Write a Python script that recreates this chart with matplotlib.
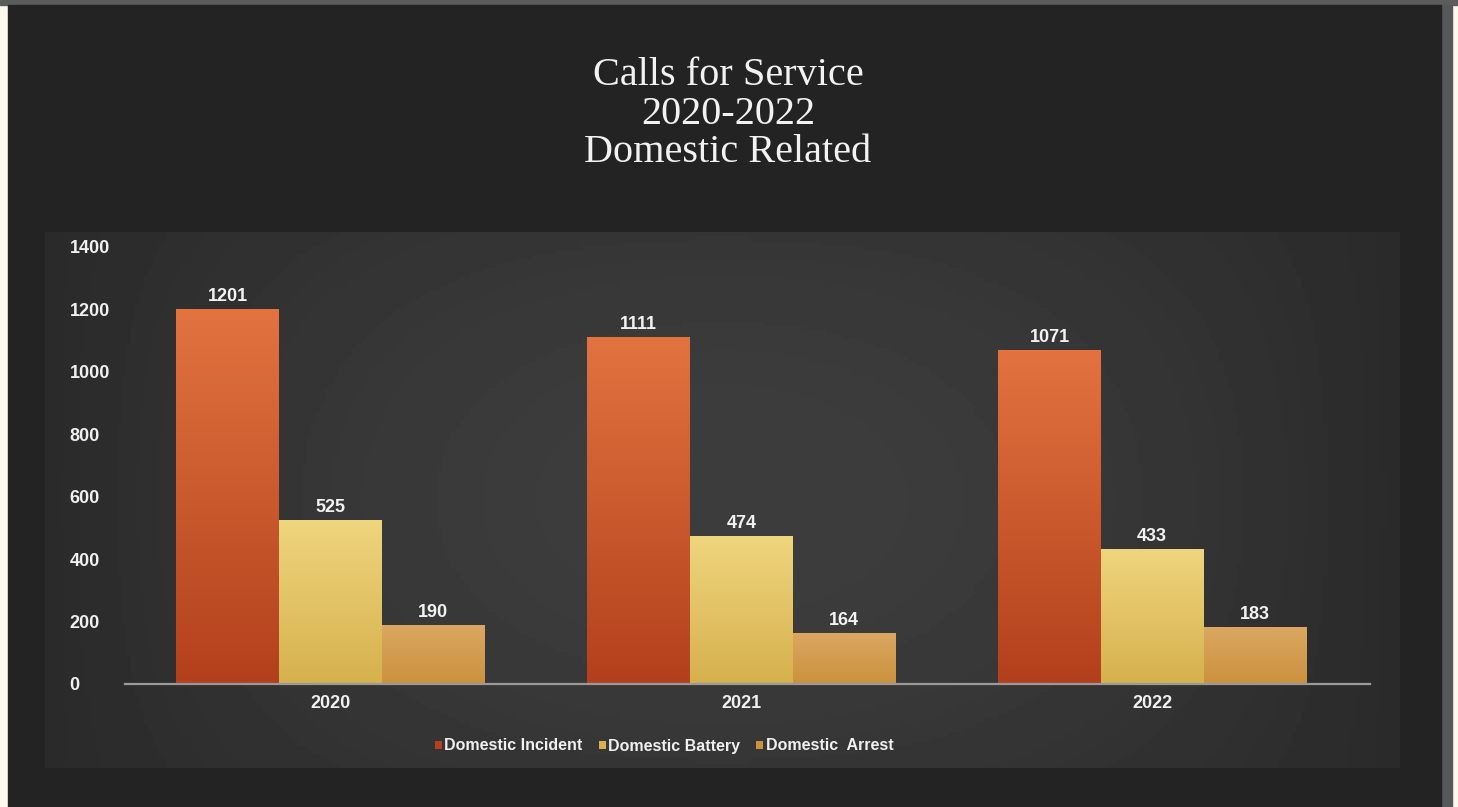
import numpy as np
import matplotlib.pyplot as plt
from matplotlib.patches import Rectangle
from matplotlib.colors import LinearSegmentedColormap

# data
years = ['2020', '2021', '2022']
incident = [1201, 1111, 1071]
battery = [525, 474, 433]
arrest = [190, 164, 183]
series_names = ['Domestic Incident', 'Domestic Battery', 'Domestic  Arrest']
y_ticks = [0, 200, 400, 600, 800, 1000, 1200, 1400]

# colours (top, bottom) for the gradient fill
grads = [('#e2733f', '#b3401c'), ('#efd57e', '#d6b14d'), ('#dba762', '#cc913d')]

W, H = 1458, 807
fig = plt.figure(figsize=(W / 100, H / 100), dpi=100, facecolor='#fdf8ec')

# frame + dark panel
fig.patches.append(Rectangle((0, 1 - 5 / H), 1, 5 / H, transform=fig.transFigure,
                             color='#5c5c5c', zorder=-2))
fig.patches.append(Rectangle((1441 / W, 0), 11 / W, 1 - 5 / H, transform=fig.transFigure,
                             color='#55575a', zorder=-2))
fig.patches.append(Rectangle((8 / W, 0), (1441 - 8) / W, 1 - 5 / H, transform=fig.transFigure,
                             color='#232323', zorder=-2))

# lighter chart panel with soft gradient
bg = fig.add_axes([45 / W, 1 - 768 / H, (1400 - 45) / W, (768 - 232) / H], zorder=0)
gx = np.linspace(-1, 1, 300)
gy = np.linspace(-1, 1, 120)
X, Y = np.meshgrid(gx, gy)
shade = 0.165 + 0.075 * (1 - X ** 2) * (1 - 0.4 * Y ** 2)
bg.imshow(shade, cmap='gray', vmin=0, vmax=1, aspect='auto', extent=(0, 1, 0, 1))
bg.axis('off')

ax = fig.add_axes([125 / W, 1 - 684 / H, (1370 - 125) / W, (684 - 247) / H], zorder=1)
ax.patch.set_alpha(0)

x = np.arange(len(years))
w = 0.25
grad = np.linspace(1, 0, 100).reshape(-1, 1)
for i, vals in enumerate([incident, battery, arrest]):
    bars = ax.bar(x + (i - 1) * w, vals, w, color=grads[i][1], label=series_names[i], zorder=2)
    cmap = LinearSegmentedColormap.from_list('g', [grads[i][1], grads[i][0]])
    for b, v in zip(bars, vals):
        im = ax.imshow(grad, cmap=cmap, aspect='auto', zorder=3,
                       extent=(b.get_x(), b.get_x() + b.get_width(), 0, v))
        im.set_clip_path(b)
        ax.text(b.get_x() + b.get_width() / 2, v + 12, str(v), ha='center', va='bottom',
                color='#f2f2f2', fontsize=13, fontweight='bold', family='Liberation Sans', zorder=4)

ax.set_xlim(-0.5, 2.53)
ax.set_ylim(0, 1400)
ax.set_yticks(y_ticks)
ax.set_xticks(x)
ax.set_xticklabels(years)
for s in ['top', 'right', 'left']:
    ax.spines[s].set_visible(False)
ax.spines['bottom'].set_color('#9a9a9a')
ax.spines['bottom'].set_linewidth(1.6)
ax.spines['bottom'].set_zorder(5)
ax.tick_params(axis='both', length=0, colors='#f0f0f0', labelsize=13)
ax.tick_params(axis='y', pad=40)
ax.tick_params(axis='x', pad=8)
for lab in ax.get_yticklabels():
    lab.set_ha('left')
for lab in ax.get_yticklabels() + ax.get_xticklabels():
    lab.set_fontweight('bold')
    lab.set_family('Liberation Sans')

leg = fig.legend(loc='center', bbox_to_anchor=(664 / W, 1 - 746 / H), ncol=3, frameon=False,
                 handlelength=0.45, handleheight=0.45, handletextpad=0.15, columnspacing=1.0,
                 prop={'family': 'Liberation Sans', 'weight': 'bold', 'size': 11.5})
for t in leg.get_texts():
    t.set_color('#f0f0f0')

fig.text(728 / W, 1 - 114 / H, 'Calls for Service\n2020-2022\nDomestic Related', ha='center', va='center',
         color='#f2f2f2', fontsize=29, family='Liberation Serif', linespacing=1.05)

fig.savefig('out.png', dpi=100, facecolor=fig.get_facecolor())
